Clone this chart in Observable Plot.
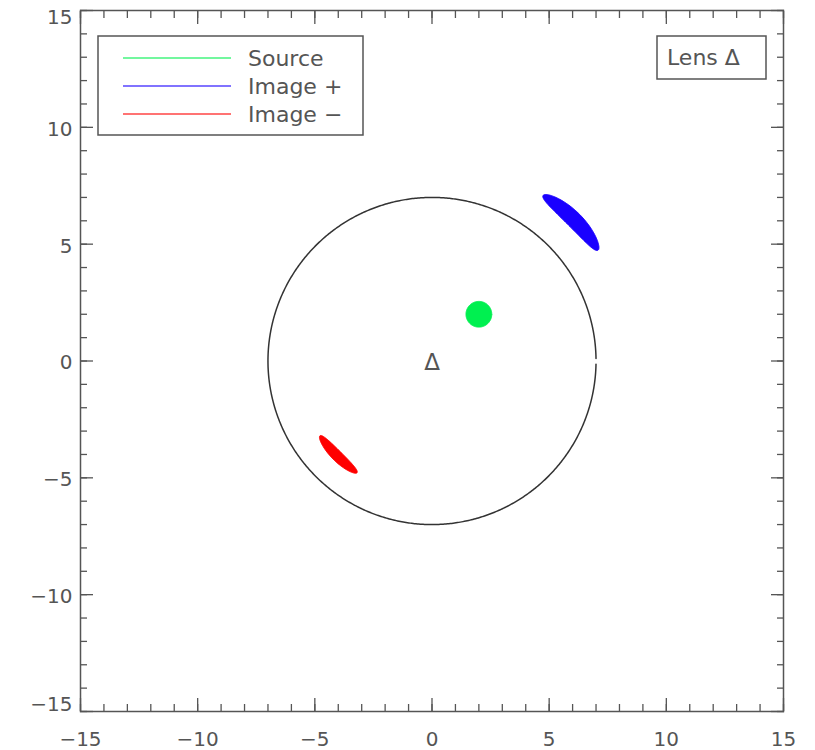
<!DOCTYPE html>
<html>
<head>
<meta charset="utf-8">
<script src="https://cdn.jsdelivr.net/npm/d3@7"></script>
<script src="https://cdn.jsdelivr.net/npm/@observablehq/plot@0.6"></script>
<style>
  body { margin: 0; background: #fff; }
  svg { font-family: "DejaVu Sans", sans-serif; }
</style>
</head>
<body>
<script>
// Point-mass gravitational lens: source disk, Einstein ring and the two lensed images.
const lensX = [0];
const lensY = [0];
const einsteinRadius = 7;
const sourceX = 2;
const sourceY = 2;
const sourceRadius = 0.55;

// Axis ticks
const majorTicks = [-15, -10, -5, 0, 5, 10, 15];
const minorTicks = d3.range(-15, 16, 1);

// Legend entries
const legendLabels = ["Source", "Image +", "Image \u2212"];
const legendColors = ["#00f050", "#1a00ff", "#ff0000"];

// Outline of the source disk
const outlineSteps = d3.range(0, 360, 2).map(d => d * Math.PI / 180);
const sourceOutline = outlineSteps.map(a => ({
  x: sourceX + sourceRadius * Math.cos(a),
  y: sourceY + sourceRadius * Math.sin(a)
}));

// Map each source boundary point through the point-lens equation
// theta = (beta +/- sqrt(beta^2 + 4 thetaE^2)) / 2 along the source direction.
function lensedImage(sign) {
  return sourceOutline.map(p => {
    const b = Math.hypot(p.x, p.y);
    const t = (b + sign * Math.sqrt(b * b + 4 * einsteinRadius * einsteinRadius)) / 2;
    return {x: p.x / b * t, y: p.y / b * t};
  });
}
const imagePlus = lensedImage(1);
const imageMinus = lensedImage(-1);

// Einstein ring (drawn open, as a single stroke)
const ring = d3.range(0.9, 359.2, 0.5).map(d => {
  const a = d * Math.PI / 180;
  return {x: einsteinRadius * Math.cos(a), y: einsteinRadius * Math.sin(a)};
});

const W = 815, H = 750;
const margin = {top: 10, right: 32, bottom: 39, left: 80};
const axisColor = "#555";

// Ticks pointing into the frame on every side
function inwardTicks(ticks, size) {
  const common = {tickSize: size, tickFormat: () => "", stroke: axisColor, strokeWidth: 1.3};
  return [
    Plot.axisX(ticks, {...common, anchor: "bottom", dy: -size}),
    Plot.axisX(ticks, {...common, anchor: "top", dy: size}),
    Plot.axisY(ticks, {...common, anchor: "left", dx: size}),
    Plot.axisY(ticks, {...common, anchor: "right", dx: -size})
  ];
}

// Y tick labels; the two end labels are pulled inside the frame's height
const yLabelStyle = {anchor: "left", tickSize: 0, tickPadding: 8, fontSize: 20, fill: axisColor};
const yEnds = [majorTicks[0], majorTicks[majorTicks.length - 1]];
const yInner = majorTicks.slice(1, -1);

const plot = Plot.plot({
  width: W,
  height: H,
  marginTop: margin.top,
  marginRight: margin.right,
  marginBottom: margin.bottom,
  marginLeft: margin.left,
  x: {domain: [-15, 15], label: null},
  y: {domain: [-15, 15], label: null},
  marks: [
    Plot.line(ring, {x: "x", y: "y", stroke: "#333", strokeWidth: 1.5}),
    Plot.line(sourceOutline, {x: "x", y: "y", curve: "linear-closed", fill: legendColors[0], stroke: legendColors[0], strokeWidth: 1}),
    Plot.line(imagePlus, {x: "x", y: "y", curve: "linear-closed", fill: legendColors[1], stroke: legendColors[1], strokeWidth: 1}),
    Plot.line(imageMinus, {x: "x", y: "y", curve: "linear-closed", fill: legendColors[2], stroke: legendColors[2], strokeWidth: 1}),
    Plot.text(lensX.map((x, i) => ({x, y: lensY[i]})), {x: "x", y: "y", text: () => "\u0394", fontSize: 23, fill: axisColor, dy: 2}),
    ...inwardTicks(minorTicks, 7),
    ...inwardTicks(majorTicks, 13),
    // tick labels
    Plot.axisX(majorTicks, {anchor: "bottom", tickSize: 0, tickPadding: 20, fontSize: 20, fill: axisColor}),
    Plot.axisY(yInner, {...yLabelStyle, dy: 2}),
    Plot.axisY([yEnds[0]], {...yLabelStyle, dy: -7}),
    Plot.axisY([yEnds[1]], {...yLabelStyle, dy: 7}),
    Plot.frame({stroke: axisColor, strokeWidth: 1.5})
  ]
});
document.body.append(plot);

// Legend boxes drawn inside the frame
const svg = d3.select(plot);
const legend = svg.append("g").attr("font-size", 22).attr("fill", axisColor).attr("text-anchor", "start");
const lx = margin.left + 18, ly = margin.top + 26;
legend.append("rect").attr("x", lx).attr("y", ly).attr("width", 265).attr("height", 99)
  .attr("fill", "white").attr("stroke", axisColor).attr("stroke-width", 1.5);
legendLabels.forEach((label, i) => {
  const y = ly + 22 + i * 28;
  legend.append("line").attr("x1", lx + 25).attr("x2", lx + 133).attr("y1", y).attr("y2", y)
    .attr("stroke", legendColors[i]).attr("stroke-width", 2).attr("stroke-opacity", 0.55);
  legend.append("text").attr("x", lx + 150).attr("y", y + 7.5).attr("xml:space", "preserve").text(label);
});

const fr = W - margin.right;
const lens = svg.append("g").attr("font-size", 22).attr("fill", axisColor).attr("text-anchor", "start");
lens.append("rect").attr("x", fr - 126).attr("y", margin.top + 26).attr("width", 109).attr("height", 43)
  .attr("fill", "white").attr("stroke", axisColor).attr("stroke-width", 1.5);
lens.append("text").attr("x", fr - 116).attr("y", margin.top + 55).text("Lens \u0394");
</script>
</body>
</html>
